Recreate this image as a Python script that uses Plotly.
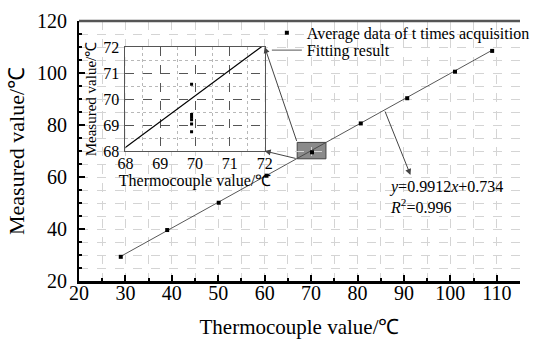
import plotly.graph_objects as go

# ---------------- data ----------------
X_MEAS = [29.0, 39.0, 50.1, 60.4, 70.2, 80.7, 90.7, 101.0, 109.0]
Y_MEAS = [29.3, 39.6, 50.1, 60.5, 69.5, 80.6, 90.3, 100.5, 108.5]

INSET_X = [69.9, 69.9, 69.9, 69.9, 69.9, 69.9]
INSET_Y = [70.57, 69.40, 69.30, 69.20, 69.04, 68.74]

FIT_SLOPE = 0.9912
FIT_INTERCEPT = 0.734
FIT_X = [29.0, 109.0]
FIT_Y = [FIT_SLOPE * v + FIT_INTERCEPT for v in FIT_X]

X_RANGE = [20, 115]
Y_RANGE = [20, 120]
INSET_RANGE = [68, 72]
# inset placement expressed in main-axis data units
INSET_BOX_X = [30, 60]
INSET_BOX_Y = [70, 110]
ZOOM_BOX_X = [67, 73.2]
ZOOM_BOX_Y = [67, 73.3]

FONT = "Liberation Serif"


def px(v):
    return (v - X_RANGE[0]) / (X_RANGE[1] - X_RANGE[0])


def py(v):
    return (v - Y_RANGE[0]) / (Y_RANGE[1] - Y_RANGE[0])


fig = go.Figure()

# main fit line
fig.add_trace(go.Scatter(
    x=FIT_X, y=FIT_Y, mode="lines", name="Fitting result",
    line=dict(color="#444444", width=0.9), legend="legend2",
    xaxis="x", yaxis="y"))
# main data
fig.add_trace(go.Scatter(
    x=X_MEAS, y=Y_MEAS, mode="markers", name="Average data of t times acquisition",
    marker=dict(symbol="square", size=4, color="black"), legend="legend",
    xaxis="x", yaxis="y"))

# inset
fig.add_trace(go.Scatter(
    x=FIT_X, y=FIT_Y, mode="lines", showlegend=False,
    line=dict(color="black", width=1.2), xaxis="x2", yaxis="y2"))
fig.add_trace(go.Scatter(
    x=INSET_X, y=INSET_Y, mode="markers", showlegend=False,
    marker=dict(symbol="square", size=3, color="black"), xaxis="x2", yaxis="y2"))

grid_main = dict(showgrid=True, gridcolor="#d4d4d4", gridwidth=1, griddash="dash")

fig.update_layout(
    width=535, height=339,
    margin=dict(l=79, r=0, t=21, b=58),
    paper_bgcolor="white", plot_bgcolor="white",
    font=dict(family=FONT, color="black"),
    xaxis=dict(
        range=X_RANGE, tick0=20, dtick=10, ticks="inside", ticklen=6, tickwidth=1.5,
        tickcolor="black", showline=True, linecolor="black", linewidth=2.5,
        zeroline=False, tickfont=dict(size=20, family=FONT), ticklabelstandoff=-8,
        automargin=False,
        title=dict(text="Thermocouple value/℃", font=dict(size=21, family=FONT), standoff=22),
        minor=dict(dtick=5, ticks="inside", ticklen=3, tickcolor="black",
                   showgrid=True, gridcolor="#d4d4d4", griddash="dash"),
        **grid_main),
    yaxis=dict(
        range=Y_RANGE, tick0=20, dtick=20, ticks="inside", ticklen=6, tickwidth=1.5,
        tickcolor="black", showline=True, linecolor="black", linewidth=2,
        zeroline=False, tickfont=dict(size=20, family=FONT), ticklabelstandoff=6,
        automargin=False,
        title=dict(text="Measured value/℃", font=dict(size=22, family=FONT), standoff=6),
        minor=dict(dtick=5, ticks="inside", ticklen=3, tickcolor="black",
                   showgrid=True, gridcolor="#d4d4d4", griddash="dash"),
        **grid_main),
    xaxis2=dict(
        domain=[px(INSET_BOX_X[0]), px(INSET_BOX_X[1])], anchor="y2",
        range=INSET_RANGE, tick0=68, dtick=1, ticks="", showline=True, mirror=True,
        linecolor="#555555", linewidth=1, zeroline=False,
        showgrid=True, gridcolor="#555555", gridwidth=1, griddash="dash",
        minor=dict(dtick=0.5, showgrid=True, gridcolor="#b8b8b8", griddash="dot"),
        tickfont=dict(size=16, family=FONT), ticklabelstandoff=-2,
        title=dict(text="Thermocouple value/℃", font=dict(size=16, family=FONT), standoff=0)),
    yaxis2=dict(
        domain=[py(INSET_BOX_Y[0]), py(INSET_BOX_Y[1])], anchor="x2",
        range=INSET_RANGE, tick0=68, dtick=1, ticks="", showline=True, mirror=True,
        linecolor="#555555", linewidth=1, zeroline=False,
        showgrid=True, gridcolor="#555555", gridwidth=1, griddash="dash",
        minor=dict(dtick=0.5, showgrid=True, gridcolor="#b8b8b8", griddash="dot"),
        tickfont=dict(size=16, family=FONT), ticklabelstandoff=2,
        title=dict(text="Measured value/℃", font=dict(size=15, family=FONT), standoff=2)),
    legend=dict(x=0.426, y=1.02, xanchor="left", yanchor="top",
                bgcolor="rgba(0,0,0,0)", font=dict(size=16, family=FONT),
                itemsizing="trace"),
    legend2=dict(x=0.426, y=0.953, xanchor="left", yanchor="top",
                 bgcolor="rgba(0,0,0,0)", font=dict(size=16, family=FONT)),
)

# top frame line
fig.add_shape(type="line", xref="paper", yref="paper", x0=0, x1=1, y0=1, y1=1,
              line=dict(color="#555555", width=2.5), layer="above")
# zoomed region box
fig.add_shape(type="rect", xref="x", yref="y",
              x0=ZOOM_BOX_X[0], x1=ZOOM_BOX_X[1], y0=ZOOM_BOX_Y[0], y1=ZOOM_BOX_Y[1],
              fillcolor="#8a8a8a", line=dict(color="#444444", width=1), layer="below")

arrow_style = dict(showarrow=True, arrowhead=2, arrowsize=1.2, arrowwidth=1,
                   arrowcolor="#444444", text="", axref="x", ayref="y",
                   xref="x", yref="y", standoff=0, startstandoff=0)
# connectors: zoom box -> inset corners
fig.add_annotation(x=INSET_BOX_X[1], y=INSET_BOX_Y[1],
                   ax=ZOOM_BOX_X[0], ay=ZOOM_BOX_Y[1], **arrow_style)
fig.add_annotation(x=INSET_BOX_X[1], y=INSET_BOX_Y[0],
                   ax=ZOOM_BOX_X[0], ay=ZOOM_BOX_Y[0], **arrow_style)
# equation arrow
EQ_ARROW_FROM = 85.8
fig.add_annotation(x=91.4, y=60.8, ax=EQ_ARROW_FROM,
                   ay=FIT_SLOPE * EQ_ARROW_FROM + FIT_INTERCEPT, **arrow_style)
fig.add_annotation(x=86.4, y=52.5, xref="x", yref="y", xanchor="left", yanchor="middle",
                   align="left", showarrow=False,
                   text="<i>y</i>=0.9912<i>x</i>+0.734<br><i>R</i><sup>2</sup>=0.996",
                   font=dict(size=16, family=FONT))

fig.write_html("out.html")
